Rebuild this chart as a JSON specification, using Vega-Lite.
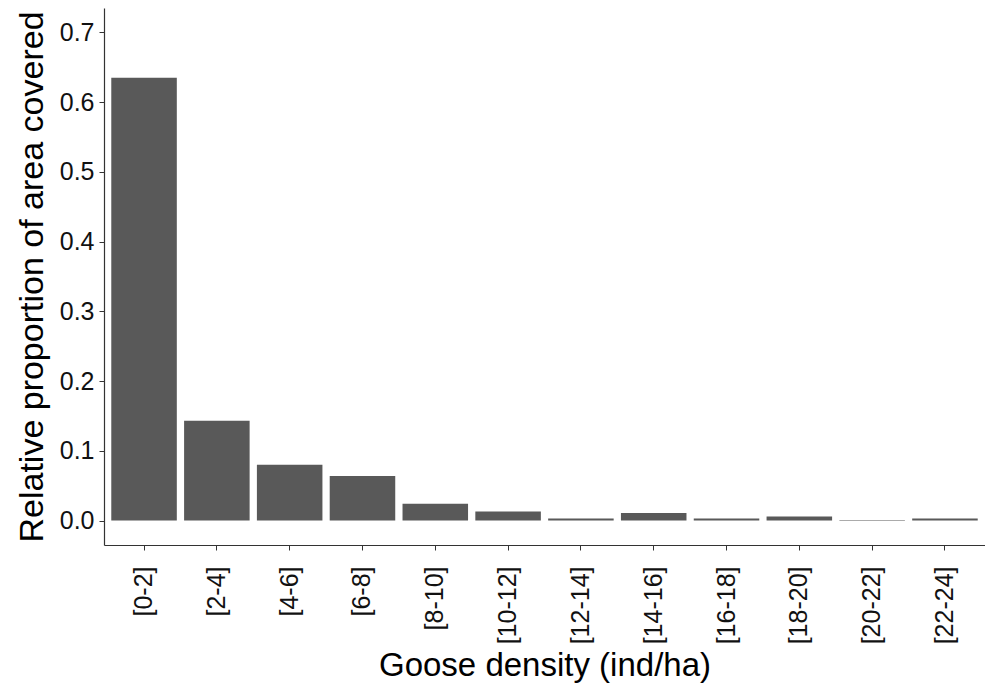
{
  "$schema": "https://vega.github.io/schema/vega-lite/v6.json",
  "autosize": {"type": "none"},
  "width": 881,
  "height": 537,
  "padding": {"left": 104, "top": 8, "right": 0, "bottom": 141},
  "background": "white",
  "config": {
    "view": {"stroke": null},
    "font": "Liberation Sans",
    "axis": {
      "grid": false,
      "domainColor": "#333333",
      "domainWidth": 1.2,
      "tickColor": "#333333",
      "tickSize": 5,
      "labelColor": "#111111",
      "titleColor": "#000000",
      "titleFontWeight": "normal",
      "labelFont": "Liberation Sans",
      "titleFont": "Liberation Sans"
    }
  },
  "data": {
    "values": [
      {"density": "[0-2]", "proportion": 0.635},
      {"density": "[2-4]", "proportion": 0.143},
      {"density": "[4-6]", "proportion": 0.080},
      {"density": "[6-8]", "proportion": 0.064},
      {"density": "[8-10]", "proportion": 0.024},
      {"density": "[10-12]", "proportion": 0.013},
      {"density": "[12-14]", "proportion": 0.003},
      {"density": "[14-16]", "proportion": 0.011},
      {"density": "[16-18]", "proportion": 0.003},
      {"density": "[18-20]", "proportion": 0.006},
      {"density": "[20-22]", "proportion": 0.001},
      {"density": "[22-24]", "proportion": 0.003}
    ]
  },
  "mark": {"type": "bar", "color": "#595959"},
  "encoding": {
    "x": {
      "field": "density",
      "type": "nominal",
      "sort": null,
      "scale": {"paddingInner": 0.1, "paddingOuter": 0.1},
      "axis": {
        "title": "Goose density (ind/ha)",
        "titleFontSize": 33,
        "titlePadding": 6,
        "labelAngle": -90,
        "labelFontSize": 25,
        "labelPadding": 16
      }
    },
    "y": {
      "field": "proportion",
      "type": "quantitative",
      "scale": {"domain": [-0.035, 0.735], "nice": false, "zero": false},
      "axis": {
        "title": "Relative proportion of area covered",
        "titleFontSize": 34,
        "titlePadding": 10,
        "values": [0, 0.1, 0.2, 0.3, 0.4, 0.5, 0.6, 0.7],
        "format": ".1f",
        "labelFontSize": 25,
        "labelPadding": 5
      }
    }
  }
}
